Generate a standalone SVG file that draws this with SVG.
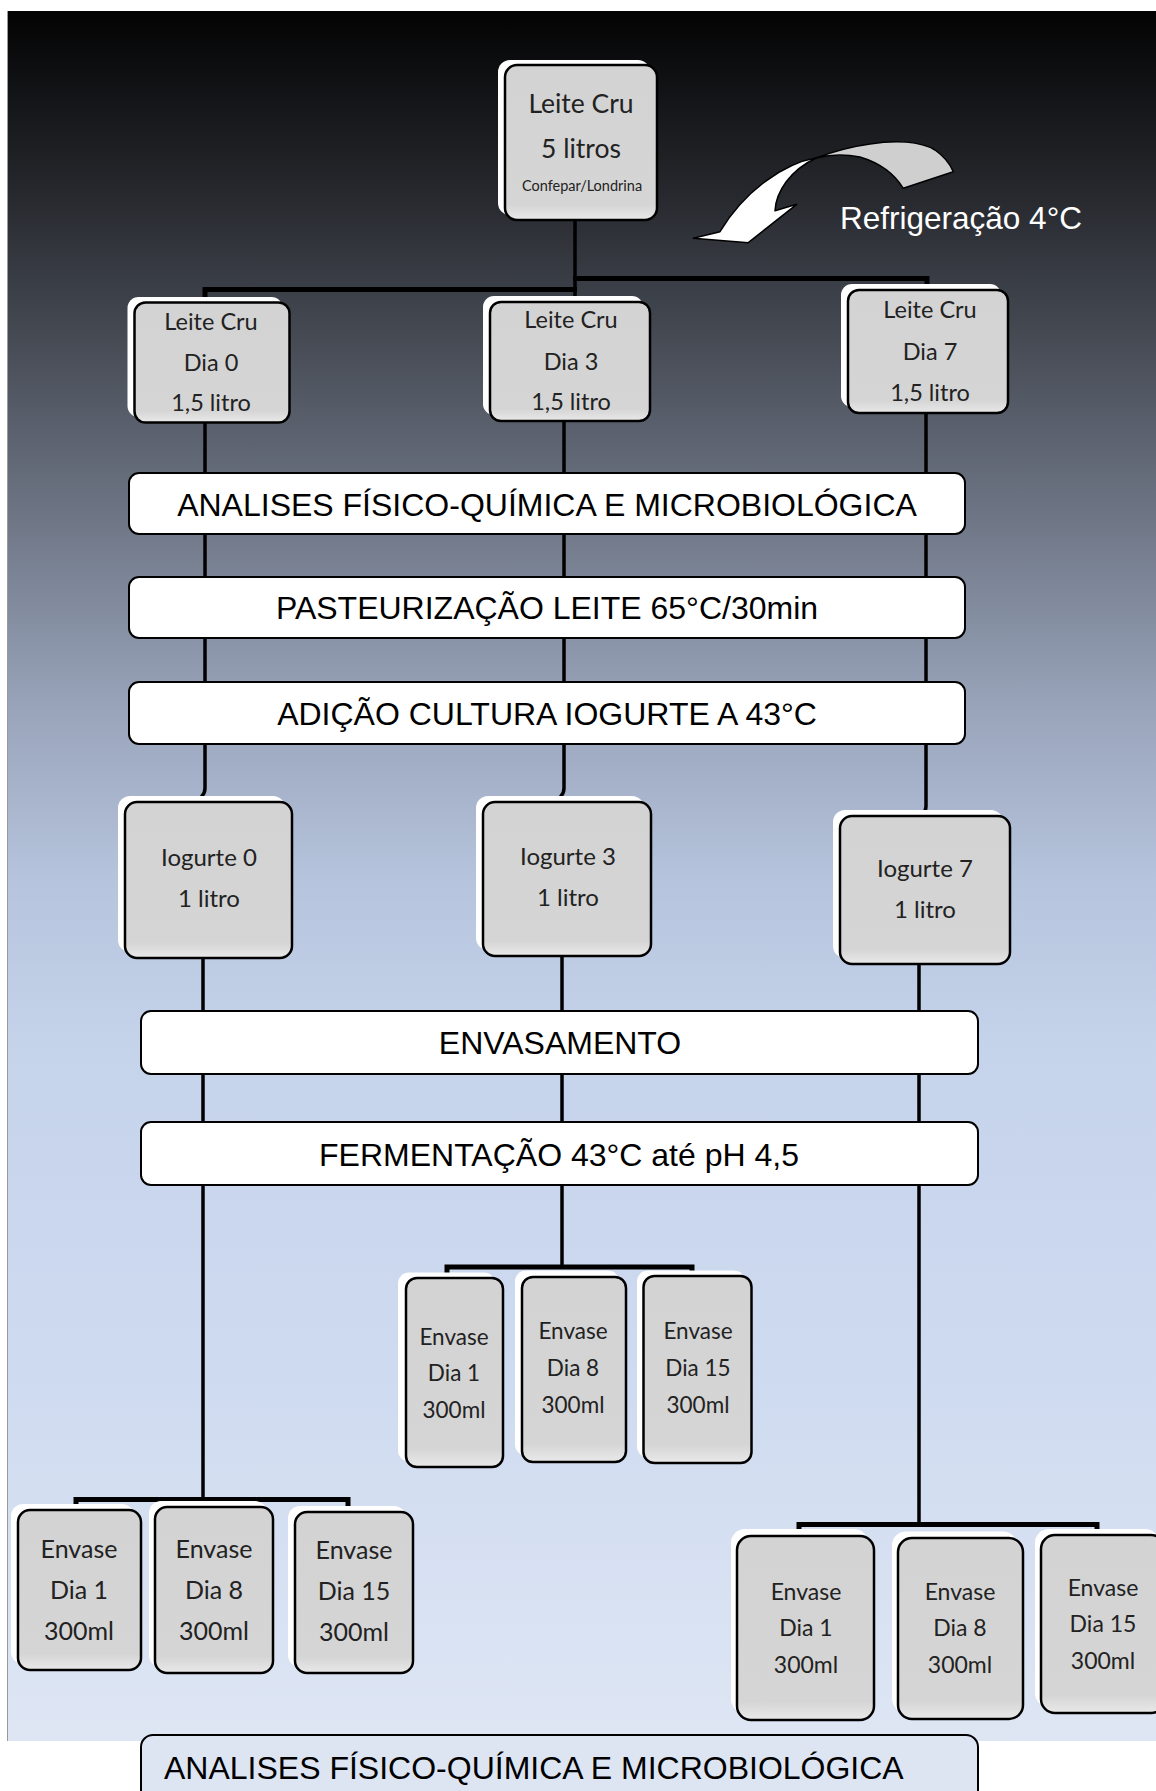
<svg xmlns="http://www.w3.org/2000/svg" width="1156" height="1791" viewBox="0 0 1156 1791">
<defs>
<linearGradient id="bgGrad" x1="0" y1="0" x2="0" y2="1">
<stop offset="0" stop-color="#030303"/>
<stop offset="0.1" stop-color="#24262b"/>
<stop offset="0.2" stop-color="#4a4f59"/>
<stop offset="0.3" stop-color="#717989"/>
<stop offset="0.4" stop-color="#98a3b9"/>
<stop offset="0.5" stop-color="#b5c3dc"/>
<stop offset="0.6" stop-color="#c5d3eb"/>
<stop offset="0.8" stop-color="#cfdbf0"/>
<stop offset="1" stop-color="#dee6f4"/>
</linearGradient>
<linearGradient id="nodeGrad" x1="0" y1="0" x2="0" y2="1">
<stop offset="0" stop-color="#d3d3d3"/>
<stop offset="0.9" stop-color="#d5d5d5"/>
<stop offset="1" stop-color="#e9e9e9"/>
</linearGradient>
<style>
.back{fill:#ffffff}
.node{fill:url(#nodeGrad);stroke:#000;stroke-width:2.5}
.proc{fill:#ffffff;stroke:#000;stroke-width:2}
.lbl{font-family:Lato,"Open Sans",sans-serif;fill:#222222;text-anchor:middle}
.big{font-family:"Liberation Sans",Arial,sans-serif;font-size:32px;fill:#000;text-anchor:middle}
.conn{stroke:#000;stroke-width:3.5;fill:none}
.bar{stroke:#000;stroke-width:5;fill:none}
.arrow{stroke:#000;stroke-width:1.5;stroke-linejoin:round}
</style>
</defs>

<rect x="7" y="11" width="1149" height="1730" fill="url(#bgGrad)"/>
<line x1="7.5" y1="11" x2="7.5" y2="1741" stroke="#9a9a9a" stroke-width="1"/>

<g id="connectors">
<path class="conn" d="M575,220 V302"/>
<path class="bar" d="M205,300 V289.5 H577"/>
<path class="bar" d="M573,278.5 H927 V290"/>
<path class="conn" d="M205,422 V788 Q205,793 202,796 V802"/>
<path class="conn" d="M564,421 V788 Q564,793 561,796 V802"/>
<path class="conn" d="M926,413 V806 Q926,811 923,813 V816"/>
<path class="conn" d="M203,958 V1499"/>
<path class="conn" d="M562,956 V1267"/>
<path class="conn" d="M919,964 V1525"/>
<path class="bar" d="M447,1273 V1267 H692 V1272"/>
<path class="bar" d="M76,1508 V1499.5 H348 V1508"/>
<path class="bar" d="M799,1531 V1524.5 H1097 V1530"/>
</g>

<g id="refrigeracao">
<path class="arrow" fill="#cfcfcf" d="M816.7,157.7 C835,151 855,146 870,144 C895,140 920,141 935,150 C945,157 950,164 953.3,171.7 L903.3,188.3 C895,175 880,163 860,157 C845,154 828,155 816.7,157.7 Z"/>
<path class="arrow" fill="#ffffff" d="M816.7,157.7 C785,163 745,190 720,231.7 L693.3,238.3 L748.3,242.7 L796.7,204.3 L775,210.7 C776,192 790,170 816.7,157.7 Z"/>
<text x="961" y="229" font-family="Liberation Sans, Arial, sans-serif" font-size="31.5" fill="#ffffff" text-anchor="middle">Refrigeração 4°C</text>
</g>

<g id="n-root">
<rect class="back" x="498" y="60" width="152" height="155" rx="12"/>
<rect class="node" x="505" y="65" width="152" height="155" rx="12"/>
<text class="lbl" x="581" y="113" font-size="26.5">Leite Cru</text>
<text class="lbl" x="581" y="158" font-size="26.5">5 litros</text>
<text class="lbl" x="582" y="191" font-size="14.5">Confepar/Londrina</text>
</g>

<g id="n-cru0">
<rect class="back" x="127.5" y="297" width="155" height="120" rx="11"/>
<rect class="node" x="134.5" y="302.5" width="155" height="120" rx="11"/>
<text class="lbl" x="211" y="330" font-size="23.5">Leite Cru</text>
<text class="lbl" x="211" y="371" font-size="23.5">Dia 0</text>
<text class="lbl" x="211" y="411" font-size="23.5">1,5 litro</text>
</g>

<g id="n-cru3">
<rect class="back" x="483" y="296" width="160" height="119" rx="11"/>
<rect class="node" x="490" y="302" width="160" height="119" rx="11"/>
<text class="lbl" x="571" y="328" font-size="23.5">Leite Cru</text>
<text class="lbl" x="571" y="370" font-size="23.5">Dia 3</text>
<text class="lbl" x="571" y="410" font-size="23.5">1,5 litro</text>
</g>

<g id="n-cru7">
<rect class="back" x="841" y="284" width="160" height="123" rx="11"/>
<rect class="node" x="848" y="290" width="160" height="123" rx="11"/>
<text class="lbl" x="930" y="318" font-size="23.5">Leite Cru</text>
<text class="lbl" x="930" y="360" font-size="23.5">Dia 7</text>
<text class="lbl" x="930" y="401" font-size="23.5">1,5 litro</text>
</g>

<g id="p-analises1">
<rect class="proc" x="129" y="473" width="836" height="61" rx="10"/>
<text class="big" x="547" y="516">ANALISES FÍSICO-QUÍMICA E MICROBIOLÓGICA</text>
</g>

<g id="p-pasteurizacao">
<rect class="proc" x="129" y="577" width="836" height="61" rx="10"/>
<text class="big" x="547" y="619">PASTEURIZAÇÃO LEITE 65°C/30min</text>
</g>

<g id="p-adicao">
<rect class="proc" x="129" y="682" width="836" height="62" rx="10"/>
<text class="big" x="547" y="725">ADIÇÃO CULTURA IOGURTE A 43°C</text>
</g>

<g id="n-iog0">
<rect class="back" x="118" y="796" width="167" height="156" rx="12"/>
<rect class="node" x="125" y="802" width="167" height="156" rx="12"/>
<text class="lbl" x="209" y="866" font-size="24">Iogurte 0</text>
<text class="lbl" x="209" y="907" font-size="24">1 litro</text>
</g>

<g id="n-iog3">
<rect class="back" x="476" y="796" width="168" height="154" rx="12"/>
<rect class="node" x="483" y="802" width="168" height="154" rx="12"/>
<text class="lbl" x="568" y="865" font-size="24">Iogurte 3</text>
<text class="lbl" x="568" y="906" font-size="24">1 litro</text>
</g>

<g id="n-iog7">
<rect class="back" x="833" y="810" width="170" height="148" rx="12"/>
<rect class="node" x="840" y="816" width="170" height="148" rx="12"/>
<text class="lbl" x="925" y="877" font-size="24">Iogurte 7</text>
<text class="lbl" x="925" y="918" font-size="24">1 litro</text>
</g>

<g id="p-envasamento">
<rect class="proc" x="141" y="1011" width="837" height="63" rx="10"/>
<text class="big" x="560" y="1054">ENVASAMENTO</text>
</g>

<g id="p-fermentacao">
<rect class="proc" x="141" y="1122" width="837" height="63" rx="10"/>
<text class="big" x="559" y="1166">FERMENTAÇÃO 43°C até pH 4,5</text>
</g>

<g id="n-m-env1">
<rect class="back" x="398" y="1272.5" width="97" height="189" rx="11"/>
<rect class="node" x="406" y="1278" width="97" height="189" rx="11"/>
<text class="lbl" x="454" y="1345" font-size="22.5">Envase</text>
<text class="lbl" x="454" y="1381" font-size="22.5">Dia 1</text>
<text class="lbl" x="454" y="1418" font-size="22.5">300ml</text>
</g>

<g id="n-m-env8">
<rect class="back" x="515" y="1270.5" width="104" height="185" rx="11"/>
<rect class="node" x="522" y="1277" width="104" height="185" rx="11"/>
<text class="lbl" x="573" y="1339" font-size="22.5">Envase</text>
<text class="lbl" x="573" y="1376" font-size="22.5">Dia 8</text>
<text class="lbl" x="573" y="1413" font-size="22.5">300ml</text>
</g>

<g id="n-m-env15">
<rect class="back" x="637" y="1270.5" width="108" height="187" rx="11"/>
<rect class="node" x="643.5" y="1276" width="108" height="187" rx="11"/>
<text class="lbl" x="698" y="1339" font-size="22.5">Envase</text>
<text class="lbl" x="698" y="1376" font-size="22.5">Dia 15</text>
<text class="lbl" x="698" y="1413" font-size="22.5">300ml</text>
</g>

<g id="n-l-env1">
<rect class="back" x="11" y="1504" width="123" height="160" rx="12"/>
<rect class="node" x="18" y="1510" width="123" height="160" rx="12"/>
<text class="lbl" x="79" y="1558" font-size="25">Envase</text>
<text class="lbl" x="79" y="1599" font-size="25">Dia 1</text>
<text class="lbl" x="79" y="1640" font-size="25">300ml</text>
</g>

<g id="n-l-env8">
<rect class="back" x="149" y="1501" width="118" height="166" rx="12"/>
<rect class="node" x="155" y="1507" width="118" height="166" rx="12"/>
<text class="lbl" x="214" y="1558" font-size="25">Envase</text>
<text class="lbl" x="214" y="1599" font-size="25">Dia 8</text>
<text class="lbl" x="214" y="1640" font-size="25">300ml</text>
</g>

<g id="n-l-env15">
<rect class="back" x="288" y="1506" width="118" height="161" rx="12"/>
<rect class="node" x="295" y="1512" width="118" height="161" rx="12"/>
<text class="lbl" x="354" y="1559" font-size="25">Envase</text>
<text class="lbl" x="354" y="1600" font-size="25">Dia 15</text>
<text class="lbl" x="354" y="1641" font-size="25">300ml</text>
</g>

<g id="n-r-env1">
<rect class="back" x="731" y="1529" width="137" height="184" rx="14"/>
<rect class="node" x="737" y="1536" width="137" height="184" rx="14"/>
<text class="lbl" x="806" y="1600" font-size="23">Envase</text>
<text class="lbl" x="806" y="1636" font-size="23">Dia 1</text>
<text class="lbl" x="806" y="1673" font-size="23">300ml</text>
</g>

<g id="n-r-env8">
<rect class="back" x="892" y="1531.5" width="125" height="181" rx="14"/>
<rect class="node" x="898" y="1538" width="125" height="181" rx="14"/>
<text class="lbl" x="960" y="1600" font-size="23">Envase</text>
<text class="lbl" x="960" y="1636" font-size="23">Dia 8</text>
<text class="lbl" x="960" y="1673" font-size="23">300ml</text>
</g>

<g id="n-r-env15">
<rect class="back" x="1035" y="1529" width="124" height="178" rx="14"/>
<rect class="node" x="1041" y="1535" width="124" height="178" rx="14"/>
<text class="lbl" x="1103" y="1596" font-size="23">Envase</text>
<text class="lbl" x="1103" y="1632" font-size="23">Dia 15</text>
<text class="lbl" x="1103" y="1669" font-size="23">300ml</text>
</g>

<g id="p-analises2">
<rect x="141" y="1735" width="837" height="75" rx="12" fill="#dde5f3" stroke="#000" stroke-width="2"/>
<text x="164" y="1779" font-family="Liberation Sans, Arial, sans-serif" font-size="32" fill="#000">ANALISES FÍSICO-QUÍMICA E MICROBIOLÓGICA</text>
</g>
</svg>
